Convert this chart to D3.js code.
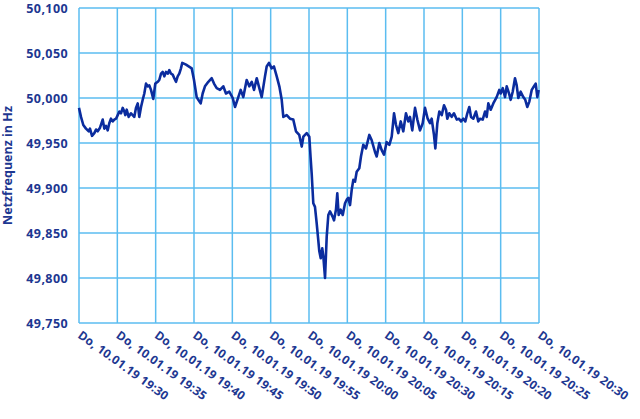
<!DOCTYPE html>
<html>
<head>
<meta charset="utf-8">
<script src="https://cdn.jsdelivr.net/npm/d3@7"></script>
<style>
  body { margin: 0; background: #fff; }
  text { font-family: "Open Sans", sans-serif; fill: #1d3791; }
</style>
</head>
<body>
<div id="chart"></div>
<script>
// minutes after 19:30 and frequency (Hz)
var minutes = [0.00,0.26,0.56,0.91,1.27,1.43,1.70,2.00,2.22,2.44,2.74,3.09,3.30,3.52,3.74,3.95,4.17,4.40,4.60,4.83,
  5.05,5.26,5.48,5.70,5.91,6.04,6.22,6.48,6.78,7.00,7.21,7.43,7.66,7.86,8.09,8.31,8.52,8.74,8.96,9.17,
  9.39,9.69,9.95,10.27,10.47,10.70,10.92,11.13,11.35,11.57,11.78,12.00,12.22,12.43,12.65,12.87,13.08,13.30,13.47,13.96,
  14.70,15.00,15.35,15.56,15.87,16.13,16.43,16.87,17.31,17.61,17.96,18.39,18.82,19.17,19.60,20.05,20.35,20.78,21.09,21.43,
  21.87,22.21,22.53,22.83,23.18,23.52,23.83,24.26,24.48,24.78,25.13,25.43,25.79,26.13,26.44,26.65,27.09,27.52,27.95,28.30,
  28.73,29.05,29.26,29.70,30.04,30.20,30.35,30.56,30.78,31.00,31.21,31.34,31.53,31.73,31.87,32.09,32.31,32.52,32.74,33.09,
  33.26,33.52,33.69,33.87,34.13,34.40,34.70,34.92,35.13,35.35,35.57,35.78,36.00,36.22,36.56,36.78,37.08,37.43,37.87,38.18,
  38.61,38.83,39.17,39.48,39.78,40.13,40.48,40.79,41.09,41.35,41.65,41.96,42.30,42.65,42.95,43.17,43.47,43.83,44.13,44.48,
  44.83,45.13,45.48,45.78,46.00,46.30,46.48,46.74,47.00,47.31,47.61,47.87,48.04,48.30,48.61,48.91,49.27,49.57,49.83,50.13,
  50.39,50.65,50.91,51.13,51.43,51.78,52.08,52.30,52.66,52.96,53.18,53.39,53.70,54.04,54.48,54.82,55.00,55.27,55.57,55.79,
  56.09,56.31,56.57,56.87,57.09,57.30,57.61,57.95,58.21,58.47,58.74,59.05,59.35,59.57,59.78,59.96];

var freq = [49.989,49.979,49.970,49.966,49.963,49.966,49.958,49.961,49.965,49.963,49.967,49.976,49.966,49.969,49.964,49.972,49.977,49.974,49.976,49.977,
  49.981,49.985,49.983,49.989,49.985,49.981,49.987,49.979,49.983,49.981,49.979,49.989,49.994,49.979,49.990,49.998,50.005,50.016,50.013,50.014,
  50.009,49.999,50.016,50.018,50.020,50.027,50.029,50.024,50.029,50.027,50.031,50.027,50.026,50.022,50.018,50.024,50.027,50.033,50.039,50.037,
  50.033,50.020,50.001,49.998,49.994,50.005,50.013,50.018,50.022,50.016,50.011,50.009,50.013,50.005,50.007,50.000,49.990,50.001,50.009,50.001,
  50.020,50.013,50.018,50.009,50.022,50.011,50.001,50.024,50.035,50.039,50.033,50.035,50.024,50.013,49.998,49.979,49.981,49.977,49.976,49.963,
  49.959,49.946,49.957,49.961,49.957,49.935,49.916,49.883,49.879,49.861,49.842,49.830,49.822,49.833,49.824,49.800,49.846,49.870,49.874,49.868,
  49.864,49.876,49.894,49.870,49.876,49.870,49.883,49.887,49.889,49.881,49.898,49.909,49.907,49.918,49.922,49.935,49.948,49.944,49.959,49.953,
  49.940,49.935,49.950,49.942,49.937,49.951,49.948,49.957,49.983,49.970,49.961,49.974,49.963,49.983,49.974,49.979,49.964,49.989,49.976,49.964,
  49.972,49.989,49.977,49.972,49.977,49.959,49.944,49.972,49.985,49.981,49.992,49.987,49.977,49.983,49.979,49.983,49.976,49.977,49.974,49.977,
  49.974,49.983,49.990,49.979,49.977,49.985,49.974,49.977,49.976,49.985,49.979,49.994,49.987,49.994,50.001,50.009,50.005,50.011,50.001,50.013,
  50.005,49.998,50.007,50.022,50.014,50.000,50.007,50.001,49.998,49.990,49.996,50.009,50.013,50.016,50.001,50.009];

var tickMinutes = [0,5,10,15,20,25,30,35,40,45,50,55,60];
var tickLabels = ["Do, 10.01.19 19:30","Do, 10.01.19 19:35","Do, 10.01.19 19:40","Do, 10.01.19 19:45",
  "Do, 10.01.19 19:50","Do, 10.01.19 19:55","Do, 10.01.19 20:00","Do, 10.01.19 20:05",
  "Do, 10.01.19 20:30","Do, 10.01.19 20:15","Do, 10.01.19 20:20","Do, 10.01.19 20:25","Do, 10.01.19 20:30"];
var yTicks = [49.75,49.80,49.85,49.90,49.95,50.00,50.05,50.10];
var yTitle = "Netzfrequenz in Hz";

var W = 640, H = 419;
var margin = {top: 8, right: 101, bottom: 96, left: 79};
var gridColor = "#5bbdf0";
var lineColor = "#0b2c9e";

var svg = d3.select("#chart").append("svg")
  .attr("width", W)
  .attr("height", H);

var x = d3.scaleLinear().domain([0, 60]).range([margin.left, W - margin.right]);
var y = d3.scaleLinear().domain([49.75, 50.10]).range([H - margin.bottom, margin.top]);

var de = d3.formatLocale({decimal: ",", thousands: ".", grouping: [3], currency: ["", "€"]});
var fmt = de.format(".3f");

// grid
svg.append("g")
  .selectAll("line.h")
  .data(yTicks)
  .enter().append("line")
    .attr("x1", margin.left).attr("x2", W - margin.right)
    .attr("y1", function(d) { return y(d); }).attr("y2", function(d) { return y(d); })
    .attr("stroke", gridColor).attr("stroke-width", 1.5);

svg.append("g")
  .selectAll("line.v")
  .data(tickMinutes)
  .enter().append("line")
    .attr("y1", margin.top).attr("y2", H - margin.bottom)
    .attr("x1", function(d) { return x(d); }).attr("x2", function(d) { return x(d); })
    .attr("stroke", gridColor).attr("stroke-width", 1.5);

// y tick labels
svg.append("g")
  .selectAll("text")
  .data(yTicks)
  .enter().append("text")
    .attr("x", margin.left - 11)
    .attr("y", function(d) { return y(d); })
    .attr("dy", "0.36em")
    .attr("text-anchor", "end")
    .style("font-size", "12.5px")
    .style("font-weight", "700")
    .style("letter-spacing", "0.4px")
    .text(function(d) { return fmt(d); });

// x tick labels (rotated)
svg.append("g")
  .selectAll("text")
  .data(tickMinutes)
  .enter().append("text")
    .attr("transform", function(d) { return "translate(" + (x(d) - 2) + "," + (H - margin.bottom + 14) + ") rotate(36)"; })
    .attr("text-anchor", "start")
    .style("font-size", "12px")
    .style("font-weight", "700")
    .style("letter-spacing", "0.2px")
    .text(function(d, i) { return tickLabels[i]; });

// y title
svg.append("text")
  .attr("transform", "translate(12," + ((margin.top + H - margin.bottom) / 2) + ") rotate(-90)")
  .attr("text-anchor", "middle")
  .style("font-size", "12.5px")
  .style("font-weight", "700")
  .text(yTitle);

// line
var line = d3.line()
  .x(function(d, i) { return x(minutes[i]); })
  .y(function(d) { return y(d); });

svg.append("path")
  .datum(freq)
  .attr("d", line)
  .attr("fill", "none")
  .attr("stroke", lineColor)
  .attr("stroke-width", 2.6)
  .attr("stroke-linejoin", "round");
</script>
</body>
</html>
